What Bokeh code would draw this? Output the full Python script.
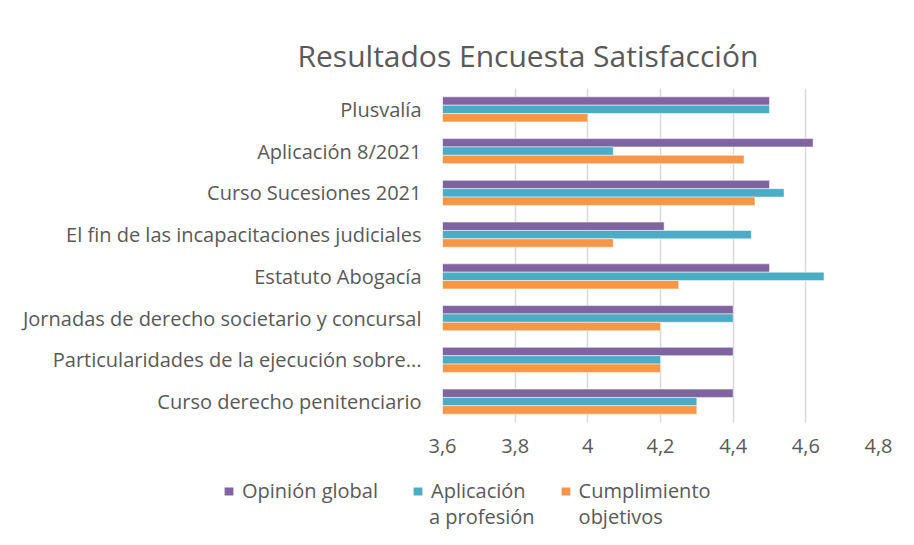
from bokeh.plotting import figure
from bokeh.layouts import column
from bokeh.models import (FactorRange, Range1d, FixedTicker, CustomJSTickFormatter, Legend,
                          LegendItem, ColumnDataSource, Title)
from bokeh.transform import dodge
from bokeh.embed import file_html
from bokeh.resources import INLINE

categories = [
    "Plusvalía",
    "Aplicación 8/2021",
    "Curso Sucesiones 2021",
    "El fin de las incapacitaciones judiciales",
    "Estatuto Abogacía",
    "Jornadas de derecho societario y concursal",
    "Particularidades de la ejecución sobre...",
    "Curso derecho penitenciario",
]
opinion_global = [4.5, 4.62, 4.5, 4.21, 4.5, 4.4, 4.4, 4.4]
aplicacion_profesion = [4.5, 4.07, 4.54, 4.45, 4.65, 4.4, 4.2, 4.3]
cumplimiento_objetivos = [4.0, 4.43, 4.46, 4.07, 4.25, 4.2, 4.2, 4.3]
series_first_lines = ["Opinión global", "Aplicación", "Cumplimiento"]
series_second_lines = ["a profesión", "objetivos"]
x_ticks = [3.6, 3.8, 4.0, 4.2, 4.4, 4.6, 4.8]
x_start, x_end = 3.6, 4.8

FONT = "Open Sans"
GREY = "#595959"
colors = ["#8064A2", "#4BACC6", "#F79646"]

src = ColumnDataSource(dict(cat=categories, a=opinion_global, b=aplicacion_profesion, c=cumplimiento_objetivos))

p = figure(width=914, height=470, output_backend="svg", toolbar_location=None,
           y_range=FactorRange(*reversed(categories)), x_range=Range1d(x_start, x_end),
           min_border_left=442, min_border_right=36, min_border_top=88, min_border_bottom=48)

for key, off, col in zip(["a", "b", "c"], [0.2, 0.0, -0.2], colors):
    p.hbar(y=dodge("cat", off, range=p.y_range), left=x_start, right=key, height=0.2,
           source=src, fill_color=col, line_color="white", line_width=0.5)

p.outline_line_color = None
p.ygrid.grid_line_color = None
p.xgrid.grid_line_color = "#d9d9d9"
p.xgrid.grid_line_width = 1.5
p.xaxis.ticker = FixedTicker(ticks=x_ticks)
p.xaxis.formatter = CustomJSTickFormatter(code="var s = (Math.round(tick*10)/10).toString(); return s.replace('.', ',');")
for ax in (p.xaxis, p.yaxis):
    ax.axis_line_color = None
    ax.major_tick_line_color = None
    ax.minor_tick_line_color = None
    ax.major_tick_out = 0
    ax.major_tick_in = 0
    ax.major_label_text_font = FONT
    ax.major_label_text_font_size = "20px"
    ax.major_label_text_color = GREY
p.yaxis.major_label_standoff = 21
p.xaxis.major_label_standoff = 16

p.title = Title(text="Resultados Encuesta Satisfacción", align="left", offset=-145,
                text_font=FONT, text_font_size="30px", text_font_style="normal",
                text_color=GREY, standoff=26)

# legend strip below the chart; its bars fall outside its x range, so only the legend shows
lf = figure(width=914, height=75, output_backend="svg", toolbar_location=None,
            x_range=Range1d(0, 1), y_range=FactorRange(*reversed(categories)),
            min_border_left=0, min_border_right=0, min_border_top=0, min_border_bottom=0)
if "frame_align" in lf.properties():
    lf.frame_align = False
lf.axis.visible = False
lf.grid.visible = False
lf.outline_line_color = None
lr = [lf.hbar(y="cat", left=x_start, right=key, height=0.2, source=src,
              fill_color=col, line_color=None) for key, col in zip(["a", "b", "c"], colors)]
l_blank = lf.hbar(y="cat", left=x_start, right="b", height=0.2, source=src,
                  fill_alpha=0, line_alpha=0)

common = dict(orientation="horizontal", label_text_font=FONT, label_text_font_size="20px",
              label_text_color=GREY, glyph_width=11, glyph_height=10, label_standoff=8,
              padding=0, margin=0, border_line_color=None, background_fill_alpha=0)
legend_a = Legend(items=[LegendItem(label=t, renderers=[r]) for t, r in zip(series_first_lines, lr)],
                  location=(223, 41), spacing=34, **common)
legend_b = Legend(items=[LegendItem(label=t, renderers=[l_blank]) for t in series_second_lines],
                  location=(410, 15), spacing=25, **common)
lf.add_layout(legend_a, "center")
lf.add_layout(legend_b, "center")

layout = column(p, lf, spacing=0)
open("out.html", "w").write(file_html(layout, INLINE))
